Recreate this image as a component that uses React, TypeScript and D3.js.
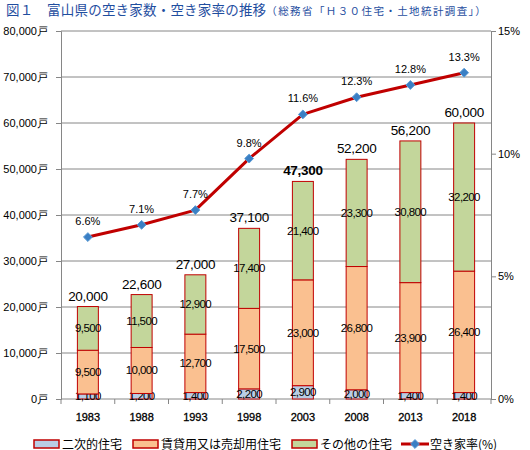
import React, { useRef, useEffect } from 'react'
import * as d3 from "d3";

const years = ["1983", "1988", "1993", "1998", "2003", "2008", "2013", "2018"];
const secondHomes = [1100, 1200, 1400, 2200, 2900, 2000, 1400, 1400];
const rentalOrSale = [9500, 10000, 12700, 17500, 23000, 26800, 23900, 26400];
const otherHomes = [9500, 11500, 12900, 17400, 21400, 23300, 30800, 32200];
const totals = [20000, 22600, 27000, 37100, 47300, 52200, 56200, 60000];
const vacancyRate = [6.6, 7.1, 7.7, 9.8, 11.6, 12.3, 12.8, 13.3];
const leftTicks = [0, 10000, 20000, 30000, 40000, 50000, 60000, 70000, 80000];
const rightTicks = [0, 5, 10, 15];
const seriesNames = ["二次的住宅", "賃貸用又は売却用住宅", "その他の住宅"];
const lineName = "空き家率(%)";

const JP = '"Noto Sans CJK JP", sans-serif';
const NUM = '"Liberation Sans", Arial, sans-serif';

function App() {
    const svgRef = useRef(null);

    useEffect(() => {
        if (!svgRef.current) return;
        const width = 530, height = 450;
        const margin = { top: 31, right: 39, bottom: 51, left: 61 };

        d3.select(svgRef.current).selectAll("*").remove();
        const svg = d3.select(svgRef.current)
            .attr("width", width)
            .attr("height", height);

        // scales
        const x = d3.scaleBand()
            .domain(years)
            .range([margin.left, width - margin.right])
            .paddingInner(0.61)
            .paddingOuter(0.305);
        const y = d3.scaleLinear().domain([0, 80000]).range([height - margin.bottom, margin.top]);
        const yr = d3.scaleLinear().domain([0, 15]).range([height - margin.bottom, margin.top]);

        const colors = ["#b9cde5", "#fac090", "#c3d69b"];
        const red = "#c00000";
        const grid = "#868686";

        // title
        const title = svg.append("text")
            .attr("x", 6)
            .attr("y", 15)
            .attr("fill", "#1f4e9f")
            .style("font-family", JP);
        title.append("tspan").style("font-size", "13.5px").style("letter-spacing", "0.2px").text("図１　富山県の空き家数・空き家率の推移");
        title.append("tspan").style("font-size", "10.5px").style("letter-spacing", "1.4px").text("（総務省「Ｈ３０住宅・土地統計調査」）");

        // gridlines
        svg.append("g")
            .selectAll("line")
            .data(leftTicks.slice(1))
            .enter()
            .append("line")
            .attr("x1", margin.left)
            .attr("x2", width - margin.right)
            .attr("y1", d => y(d))
            .attr("y2", d => y(d))
            .attr("stroke", grid)
            .attr("stroke-width", 1);

        // left axis
        const left = svg.append("g")
            .attr("transform", `translate(${margin.left},0)`)
            .call(d3.axisLeft(y).tickValues(leftTicks).tickSize(5).tickFormat(d => d3.format(",")(d) + "戸"));
        left.select(".domain").attr("stroke", grid);
        left.selectAll(".tick line").attr("stroke", grid);
        left.selectAll("text")
            .attr("x", -13)
            .attr("fill", "#000")
            .style("font-size", "11px")
            .style("font-family", NUM);

        // right axis
        const right = svg.append("g")
            .attr("transform", `translate(${width - margin.right},0)`)
            .call(d3.axisRight(yr).tickValues(rightTicks).tickSize(5).tickFormat(d => d + "%"));
        right.select(".domain").attr("stroke", grid);
        right.selectAll(".tick line").attr("stroke", grid);
        right.selectAll("text")
            .attr("x", 7)
            .attr("fill", "#000")
            .style("font-size", "11px")
            .style("font-family", NUM);

        // x axis baseline + ticks between categories
        const base = height - margin.bottom;
        svg.append("line")
            .attr("x1", margin.left).attr("x2", width - margin.right)
            .attr("y1", base).attr("y2", base)
            .attr("stroke", grid);
        const step = x.step();
        svg.append("g")
            .selectAll("line")
            .data(d3.range(years.length + 1))
            .enter()
            .append("line")
            .attr("x1", i => margin.left + i * step)
            .attr("x2", i => margin.left + i * step)
            .attr("y1", base)
            .attr("y2", base + 5)
            .attr("stroke", grid);
        svg.append("g")
            .selectAll("text")
            .data(years)
            .enter()
            .append("text")
            .attr("x", d => x(d) + x.bandwidth() / 2)
            .attr("y", base + 22)
            .attr("text-anchor", "middle")
            .attr("stroke", "#000")
            .attr("stroke-width", 0.3)
            .style("font-size", "11px")
            .style("font-family", NUM)
            .text(d => d);

        // stacked bars
        const rows = years.map((yr, i) => ({
            year: yr,
            s0: secondHomes[i],
            s1: rentalOrSale[i],
            s2: otherHomes[i],
        }));
        const stack = d3.stack().keys(["s0", "s1", "s2"])(rows);

        const layers = svg.append("g")
            .selectAll("g")
            .data(stack)
            .enter()
            .append("g")
            .attr("fill", (d, i) => colors[i]);

        layers.selectAll("rect")
            .data(d => d)
            .enter()
            .append("rect")
            .attr("x", d => x(d.data.year))
            .attr("width", x.bandwidth())
            .attr("y", d => y(d[1]))
            .attr("height", d => y(d[0]) - y(d[1]))
            .attr("stroke", red)
            .attr("stroke-width", 1);

        layers.selectAll("text")
            .data(d => d.map(v => ({ v, key: d.key })))
            .enter()
            .append("text")
            .attr("x", d => x(d.v.data.year) + x.bandwidth() / 2)
            .attr("y", d => (y(d.v[0]) + y(d.v[1])) / 2 + 4)
            .attr("text-anchor", "middle")
            .attr("fill", "#000")
            .style("letter-spacing", "-0.6px")
            .style("font-size", "11.5px")
            .style("font-family", NUM)
            .text(d => d3.format(",")(d.v.data[d.key]));

        // totals
        svg.append("g")
            .selectAll("text")
            .data(years)
            .enter()
            .append("text")
            .attr("x", d => x(d) + x.bandwidth() / 2)
            .attr("y", (d, i) => y(secondHomes[i] + rentalOrSale[i] + otherHomes[i]) - 6)
            .attr("text-anchor", "middle")
            .style("letter-spacing", "-0.3px")
            .style("font-size", "13.5px")
            .style("font-weight", (d, i) => (i === 4 ? "bold" : "normal"))
            .style("font-family", NUM)
            .text((d, i) => d3.format(",")(totals[i]));

        // vacancy rate line
        const line = d3.line()
            .x((d, i) => x(years[i]) + x.bandwidth() / 2)
            .y(d => yr(d));
        svg.append("path")
            .datum(vacancyRate)
            .attr("d", line)
            .attr("fill", "none")
            .attr("stroke", red)
            .attr("stroke-width", 3)
            .attr("stroke-linejoin", "round");

        const diamond = d3.symbol().type(d3.symbolDiamond2).size(50);
        svg.append("g")
            .selectAll("path")
            .data(vacancyRate)
            .enter()
            .append("path")
            .attr("d", diamond)
            .attr("transform", (d, i) => `translate(${x(years[i]) + x.bandwidth() / 2},${yr(d)})`)
            .attr("fill", "#3a7fc4")
            .attr("stroke", "#5b9bd5")
            .attr("stroke-width", 1);

        svg.append("g")
            .selectAll("text")
            .data(vacancyRate)
            .enter()
            .append("text")
            .attr("x", (d, i) => x(years[i]) + x.bandwidth() / 2)
            .attr("y", d => yr(d) - 12)
            .attr("text-anchor", "middle")
            .style("font-size", "11px")
            .style("font-family", NUM)
            .text(d => d.toFixed(1) + "%");

        // legend
        const legendX = [34, 133, 292];
        const legend = svg.append("g");
        seriesNames.forEach((name, i) => {
            legend.append("rect")
                .attr("x", legendX[i])
                .attr("y", 440)
                .attr("width", 25)
                .attr("height", 8)
                .attr("fill", colors[i])
                .attr("stroke", red)
                .attr("stroke-width", 1.5);
            legend.append("text")
                .attr("x", legendX[i] + 28)
                .attr("y", 448.5)
                .style("font-size", "12px")
                .style("font-family", JP)
                .text(name);
        });
        legend.append("line")
            .attr("x1", 401).attr("x2", 429)
            .attr("y1", 444).attr("y2", 444)
            .attr("stroke", red)
            .attr("stroke-width", 3);
        legend.append("path")
            .attr("d", diamond)
            .attr("transform", "translate(415,444)")
            .attr("fill", "#3a7fc4")
            .attr("stroke", "#5b9bd5");
        legend.append("text")
            .attr("x", 430)
            .attr("y", 448.5)
            .style("font-size", "12px")
            .style("font-family", JP)
            .text(lineName);
    }, []);

    return (
        <div style={{ position: "absolute", left: 0, top: 0, width: 530, height: 450, background: "#fff" }}>
            <svg ref={svgRef}></svg>
        </div>
    )
}

export default App
